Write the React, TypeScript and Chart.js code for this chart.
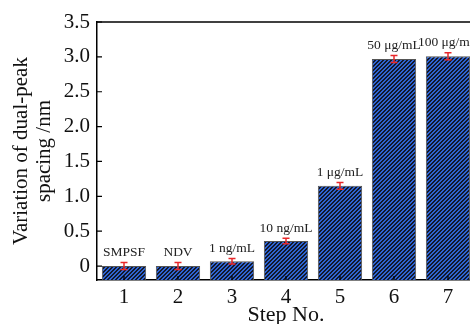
import React, { useEffect, useRef } from 'react';
import { Chart, registerables } from 'chart.js';
Chart.register(...registerables);

const categories = ['1', '2', '3', '4', '5', '6', '7'];
const values = [0, 0, 0.07, 0.36, 1.15, 2.97, 3.01];
const errors = [0.05, 0.05, 0.04, 0.04, 0.05, 0.05, 0.05];
const barLabels = ['SMPSF', 'NDV', '1 ng/mL', '10 ng/mL', '1 μg/mL', '50 μg/mL', '100 μg/mL'];
const yTickValues = [0, 0.5, 1.0, 1.5, 2.0, 2.5, 3.0, 3.5];

const FONT = "'Liberation Serif', 'DejaVu Serif', serif";

export default function App() {
  const ref = useRef<HTMLCanvasElement>(null);
  useEffect(() => {
    const canvas = ref.current!;
    const pc = document.createElement('canvas');
    pc.width = 4;
    pc.height = 4;
    const pctx = pc.getContext('2d')!;
    const img = pctx.createImageData(4, 4);
    for (let y = 0; y < 4; y++) {
      for (let x = 0; x < 4; x++) {
        const i = (y * 4 + x) * 4;
        const blue = (x + y) % 4 < 2;
        img.data[i] = blue ? 46 : 18;
        img.data[i + 1] = blue ? 100 : 24;
        img.data[i + 2] = blue ? 210 : 44;
        img.data[i + 3] = 255;
      }
    }
    pctx.putImageData(img, 0, 0);
    const pattern = canvas.getContext('2d')!.createPattern(pc, 'repeat')!;

    const decor = {
      id: 'decor',
      afterDatasetsDraw(chart: any) {
        const ctx = chart.ctx;
        const xs = chart.scales.x;
        const ys = chart.scales.y;
        const area = chart.chartArea;
        ctx.save();
        // error bars
        ctx.strokeStyle = '#e8282a';
        ctx.lineWidth = 1.5;
        values.forEach((v, i) => {
          const x = xs.getPixelForValue(i);
          const y1 = ys.getPixelForValue(v + errors[i]);
          const y2 = ys.getPixelForValue(v - errors[i]);
          ctx.beginPath();
          ctx.moveTo(x, y1);
          ctx.lineTo(x, y2);
          ctx.moveTo(x - 3.5, y1);
          ctx.lineTo(x + 3.5, y1);
          ctx.moveTo(x - 3.5, y2);
          ctx.lineTo(x + 3.5, y2);
          ctx.stroke();
        });
        // labels
        ctx.fillStyle = '#222';
        ctx.font = `13.5px ${FONT}`;
        ctx.textAlign = 'center';
        ctx.textBaseline = 'bottom';
        values.forEach((v, i) => {
          const x = xs.getPixelForValue(i);
          const y = ys.getPixelForValue(v + errors[i]);
          ctx.fillText(barLabels[i], x, y - 3);
        });
        // inward ticks
        ctx.strokeStyle = '#000';
        ctx.lineWidth = 1.2;
        ctx.beginPath();
        yTickValues.forEach((t) => {
          const y = ys.getPixelForValue(t);
          ctx.moveTo(area.left, y);
          ctx.lineTo(area.left + 5, y);
        });
        categories.forEach((_, i) => {
          const x = xs.getPixelForValue(i);
          ctx.moveTo(x, area.bottom);
          ctx.lineTo(x, area.bottom - 4);
        });
        ctx.stroke();
        // top frame line
        ctx.lineWidth = 1.5;
        ctx.beginPath();
        ctx.moveTo(area.left, area.top);
        ctx.lineTo(area.right + 10, area.top);
        ctx.stroke();
        ctx.restore();
      },
    };

    const chart = new Chart(canvas, {
      type: 'bar',
      data: {
        labels: categories,
        datasets: [
          {
            data: values,
            backgroundColor: pattern,
            borderColor: '#555',
            borderWidth: 1,
            base: -0.2,
            barPercentage: 0.82,
            categoryPercentage: 1,
          } as any,
        ],
      },
      options: {
        animation: false,
        responsive: false,
        events: [],
        layout: { padding: { top: 22, right: 5, left: 0, bottom: 0 } },
        plugins: { legend: { display: false }, tooltip: { enabled: false } },
        scales: {
          x: {
            offset: true,
            grid: { display: true, drawOnChartArea: false, drawTicks: false },
            border: { display: true, color: '#000', width: 1.5 },
            ticks: { color: '#111', font: { family: FONT, size: 21, lineHeight: 1.15 }, padding: 5 },
            title: {
              display: true,
              text: 'Step No.',
              color: '#111',
              font: { family: FONT, size: 22, lineHeight: 1.0 },
              padding: { top: 0, bottom: -2 },
            },
            afterFit: (s: any) => {
              s.height = 44;
            },
          },
          y: {
            min: -0.2,
            max: 3.5,
            afterBuildTicks: (s: any) => {
              s.ticks = yTickValues.map((v) => ({ value: v }));
            },
            grid: { display: true, drawOnChartArea: false, drawTicks: false },
            border: { display: true, color: '#000', width: 1.5 },
            ticks: {
              color: '#111',
              font: { family: FONT, size: 21 },
              padding: 7,
              callback: (v: any) => (Number(v) === 0 ? '0' : Number(v).toFixed(1)),
            },
            title: {
              display: true,
              text: ['Variation of dual-peak', 'spacing /nm'],
              color: '#111',
              font: { family: FONT, size: 21, lineHeight: 1.1 },
              padding: { top: 9.5, bottom: 0 },
            },
            afterFit: (s: any) => {
              s.width = 97;
            },
          },
        },
      },
      plugins: [decor],
    });
    return () => chart.destroy();
  }, []);

  return (
    <div style={{ position: 'fixed', left: 0, top: 0, width: 470, height: 324, overflow: 'hidden', background: '#fff' }}>
      <canvas ref={ref} width={480} height={324} style={{ display: 'block' }} />
    </div>
  );
}
